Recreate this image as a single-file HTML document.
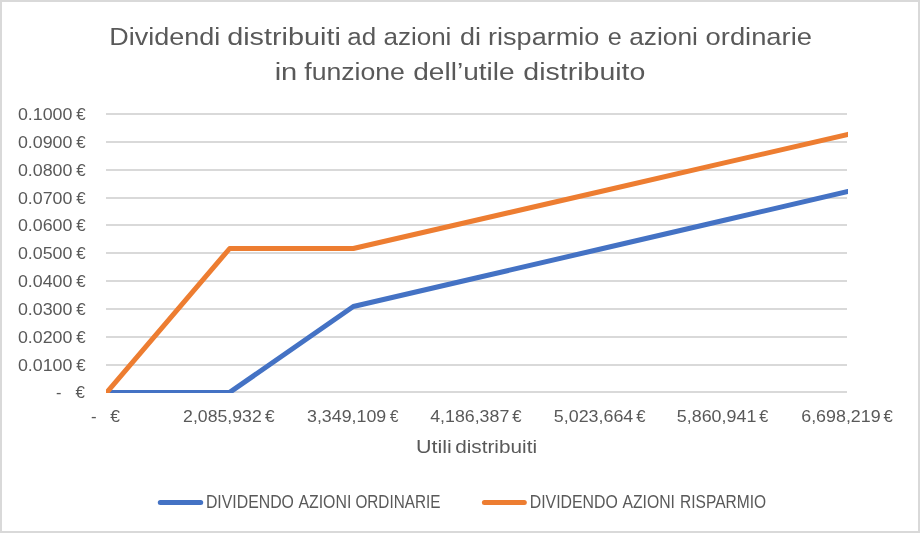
<!DOCTYPE html>
<html><head><meta charset="utf-8"><title>Dividendi distribuiti</title>
<style>html,body{margin:0;padding:0;background:#fff;}svg{display:block;}</style></head>
<body>
<svg width="920" height="533" viewBox="0 0 920 533">
<defs><clipPath id="pa"><rect x="106" y="90" width="742" height="303"/></clipPath></defs>
<rect x="0" y="0" width="920" height="533" fill="#D9D9D9"/>
<rect x="2" y="2" width="916" height="529" fill="#FFFFFF"/>
<g fill="#D9D9D9"><rect x="106" y="113" width="741" height="2"/><rect x="106" y="141" width="741" height="2"/><rect x="106" y="169" width="741" height="2"/><rect x="106" y="197" width="741" height="2"/><rect x="106" y="224" width="741" height="2"/><rect x="106" y="252" width="741" height="2"/><rect x="106" y="280" width="741" height="2"/><rect x="106" y="308" width="741" height="2"/><rect x="106" y="336" width="741" height="2"/><rect x="106" y="364" width="741" height="2"/><rect x="106" y="391" width="741" height="2"/></g>
<g clip-path="url(#pa)" fill="none" stroke-width="5.0" stroke-linecap="round" stroke-linejoin="round">
<polyline points="106.80,392.40 229.67,392.40 353.33,306.50 477.00,277.75 600.67,249.00 724.33,220.25 848.00,191.50" stroke="#4472C4"/>
<polyline points="106.80,392.40 229.67,248.50 353.33,248.50 477.00,219.97 600.67,191.45 724.33,162.93 848.00,134.40" stroke="#ED7D31"/>
</g>
<g stroke-width="5.0" stroke-linecap="round">
<line x1="160.3" y1="502.5" x2="200.7" y2="502.5" stroke="#4472C4"/>
<line x1="484.4" y1="502.5" x2="524.3" y2="502.5" stroke="#ED7D31"/>
</g>
<g opacity="0.999" font-family='"Liberation Sans", sans-serif' fill="#595959"><text transform="translate(109.22 44.80) scale(1.0880 1)" font-size="24.8">Dividendi</text><text transform="translate(227.14 44.80) scale(1.1622 1)" font-size="24.8">distribuiti</text><text transform="translate(347.23 44.80) scale(1.0471 1)" font-size="24.8">ad</text><text transform="translate(383.42 44.80) scale(1.0495 1)" font-size="24.8">azioni</text><text transform="translate(460.11 44.80) scale(1.0868 1)" font-size="24.8">di</text><text transform="translate(488.06 44.80) scale(1.0917 1)" font-size="24.8">risparmio</text><text transform="translate(607.77 44.80) scale(1.0144 1)" font-size="24.8">e</text><text transform="translate(629.21 44.80) scale(1.0599 1)" font-size="24.8">azioni</text><text transform="translate(705.59 44.80) scale(1.1027 1)" font-size="24.8">ordinarie</text><text transform="translate(274.65 80.00) scale(1.1724 1)" font-size="24.8">in</text><text transform="translate(304.28 80.00) scale(1.0739 1)" font-size="24.8">funzione</text><text transform="translate(413.27 80.00) scale(1.1314 1)" font-size="24.8">dell’utile</text><text transform="translate(523.35 80.00) scale(1.1502 1)" font-size="24.8">distribuito</text><text transform="translate(17.88 120.00) scale(1.0424 1)" font-size="17.1">0.1000</text><text transform="translate(76.33 120.00) scale(0.9929 1)" font-size="17.1">€</text><text transform="translate(17.88 148.00) scale(1.0424 1)" font-size="17.1">0.0900</text><text transform="translate(76.33 148.00) scale(0.9929 1)" font-size="17.1">€</text><text transform="translate(17.88 176.00) scale(1.0424 1)" font-size="17.1">0.0800</text><text transform="translate(76.33 176.00) scale(0.9929 1)" font-size="17.1">€</text><text transform="translate(17.88 204.00) scale(1.0424 1)" font-size="17.1">0.0700</text><text transform="translate(76.33 204.00) scale(0.9929 1)" font-size="17.1">€</text><text transform="translate(17.88 231.00) scale(1.0424 1)" font-size="17.1">0.0600</text><text transform="translate(76.33 231.00) scale(0.9929 1)" font-size="17.1">€</text><text transform="translate(17.88 259.00) scale(1.0424 1)" font-size="17.1">0.0500</text><text transform="translate(76.33 259.00) scale(0.9929 1)" font-size="17.1">€</text><text transform="translate(17.88 287.00) scale(1.0424 1)" font-size="17.1">0.0400</text><text transform="translate(76.33 287.00) scale(0.9929 1)" font-size="17.1">€</text><text transform="translate(17.88 315.00) scale(1.0424 1)" font-size="17.1">0.0300</text><text transform="translate(76.33 315.00) scale(0.9929 1)" font-size="17.1">€</text><text transform="translate(17.88 343.00) scale(1.0424 1)" font-size="17.1">0.0200</text><text transform="translate(76.33 343.00) scale(0.9929 1)" font-size="17.1">€</text><text transform="translate(17.88 371.00) scale(1.0424 1)" font-size="17.1">0.0100</text><text transform="translate(76.33 371.00) scale(0.9929 1)" font-size="17.1">€</text><text transform="translate(56.07 398.00) scale(0.9597 1)" font-size="17.1">-</text><text transform="translate(75.43 398.00) scale(0.9929 1)" font-size="17.1">€</text><text transform="translate(90.91 421.60) scale(0.9984 1)" font-size="16.8">-</text><text transform="translate(110.23 421.60) scale(1.0424 1)" font-size="16.8">€</text><text transform="translate(183.06 421.60) scale(1.0537 1)" font-size="16.8">2,085,932</text><text transform="translate(265.03 421.60) scale(1.0314 1)" font-size="16.8">€</text><text transform="translate(306.98 421.60) scale(1.0614 1)" font-size="16.8">3,349,109</text><text transform="translate(390.03 421.60) scale(0.9107 1)" font-size="16.8">€</text><text transform="translate(430.18 421.60) scale(1.0587 1)" font-size="16.8">4,186,387</text><text transform="translate(512.23 421.60) scale(0.9985 1)" font-size="16.8">€</text><text transform="translate(553.86 421.60) scale(1.0632 1)" font-size="16.8">5,023,664</text><text transform="translate(636.13 421.60) scale(0.9985 1)" font-size="16.8">€</text><text transform="translate(676.86 421.60) scale(1.0644 1)" font-size="16.8">5,860,941</text><text transform="translate(759.33 421.60) scale(0.9765 1)" font-size="16.8">€</text><text transform="translate(801.22 421.60) scale(1.0636 1)" font-size="16.8">6,698,219</text><text transform="translate(883.43 421.60) scale(0.9985 1)" font-size="16.8">€</text><text transform="translate(416.07 452.80) scale(1.1434 1)" font-size="18.8">Utili</text><text transform="translate(455.15 452.80) scale(1.1043 1)" font-size="18.8">distribuiti</text><text transform="translate(205.91 508.10) scale(0.9003 1)" font-size="17.6">DIVIDENDO</text><text transform="translate(298.44 508.10) scale(0.9017 1)" font-size="17.6">AZIONI</text><text transform="translate(355.40 508.10) scale(0.8698 1)" font-size="17.6">ORDINARIE</text><text transform="translate(529.71 508.10) scale(0.9013 1)" font-size="17.6">DIVIDENDO</text><text transform="translate(622.44 508.10) scale(0.8965 1)" font-size="17.6">AZIONI</text><text transform="translate(680.02 508.10) scale(0.8834 1)" font-size="17.6">RISPARMIO</text></g>
</svg>
</body></html>
